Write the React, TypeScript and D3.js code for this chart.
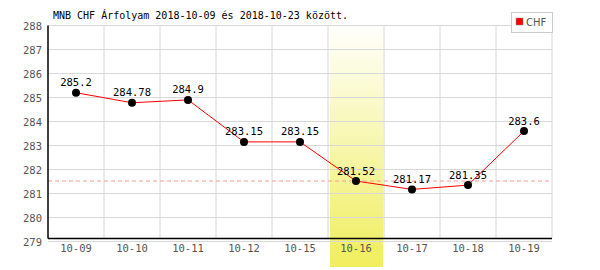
import React from "react";
import * as d3 from "d3";

const categories = ["10-09", "10-10", "10-11", "10-12", "10-15", "10-16", "10-17", "10-18", "10-19"];
const values = [285.2, 284.78, 284.9, 283.15, 283.15, 281.52, 281.17, 281.35, 283.6];
const yTicks = [279, 280, 281, 282, 283, 284, 285, 286, 287, 288];
const highlightCategory = "10-16";
const referenceValue = 281.52;
const title = "MNB CHF Árfolyam 2018-10-09 és 2018-10-23 között.";
const seriesName = "CHF";

export default function App() {
  const W = 600, H = 270;
  const left = 48, right = 552, top = 25.5, bottom = 241.5;
  const x = d3.scaleBand<string>().domain(categories).range([left, right]);
  const y = d3.scaleLinear().domain([279, 288]).range([bottom, top]);
  const line = d3.line<number>().x((_, i) => (x(categories[i]) as number) + x.bandwidth() / 2).y((d) => y(d));
  const font = "'DejaVu Sans Mono', monospace";
  const hx = x(highlightCategory) as number;
  return (
    <svg width={W} height={H} style={{ position: "absolute", left: 0, top: 0 }}>
      <defs>
        <linearGradient id="hl" x1="0" y1="0" x2="0" y2="1">
          <stop offset="0%" stopColor="#ffffff" />
          <stop offset="100%" stopColor="#f0ee5c" />
        </linearGradient>
      </defs>
      <rect x={0} y={0} width={W} height={H} fill="#fff" />
      <rect x={hx + 2} y={22} width={x.bandwidth() - 3} height={245} fill="url(#hl)" />
      {yTicks.map((t) => (
        <line key={t} x1={left} x2={right} y1={y(t)} y2={y(t)} stroke="#d8d8d8" strokeWidth={1} />
      ))}
      {categories.map((c, i) => (
        <line key={c} x1={(x(c) as number) + x.bandwidth()} x2={(x(c) as number) + x.bandwidth()} y1={top} y2={238} stroke="#d8d8d8" strokeWidth={1} />
      ))}
      <line x1={left} x2={right} y1={y(referenceValue)} y2={y(referenceValue)} stroke="#f59a9a" strokeDasharray="4,3" strokeWidth={1} />
      <line x1={left} x2={left} y1={top} y2={238.5} stroke="#000" strokeWidth={1.5} />
      <line x1={left} x2={right} y1={238.5} y2={238.5} stroke="#000" strokeWidth={1.5} />
      {yTicks.map((t) => (
        <text key={t} x={42} y={y(t) + 4} textAnchor="end" fontFamily={font} fontSize={10.5} fill="#555">{t}</text>
      ))}
      {categories.map((c) => (
        <text key={c} x={(x(c) as number) + x.bandwidth() / 2} y={252} textAnchor="middle" fontFamily={font} fontSize={10.5} fill="#555">{c}</text>
      ))}
      <path d={line(values) as string} fill="none" stroke="#ff0000" strokeWidth={1} />
      {values.map((v, i) => {
        const cx = (x(categories[i]) as number) + x.bandwidth() / 2;
        return (
          <g key={i}>
            <circle cx={cx} cy={y(v)} r={4} fill="#000" />
            <text x={cx} y={y(v) - 6.5} textAnchor="middle" fontFamily={font} fontSize={10.5} fill="#000">{v}</text>
          </g>
        );
      })}
      <text x={53} y={19} fontFamily={font} fontSize={10} fill="#000">{title}</text>
      <rect x={511.5} y={12.5} width={41} height={20} fill="#fff" stroke="#ccc" strokeWidth={1} />
      <rect x={516} y={18} width={7} height={7} fill="#ff0000" stroke="#888" strokeWidth={0.5} />
      <text x={526} y={25.5} fontFamily="'DejaVu Sans', sans-serif" fontSize={10} fill="#555">{seriesName}</text>
    </svg>
  );
}
